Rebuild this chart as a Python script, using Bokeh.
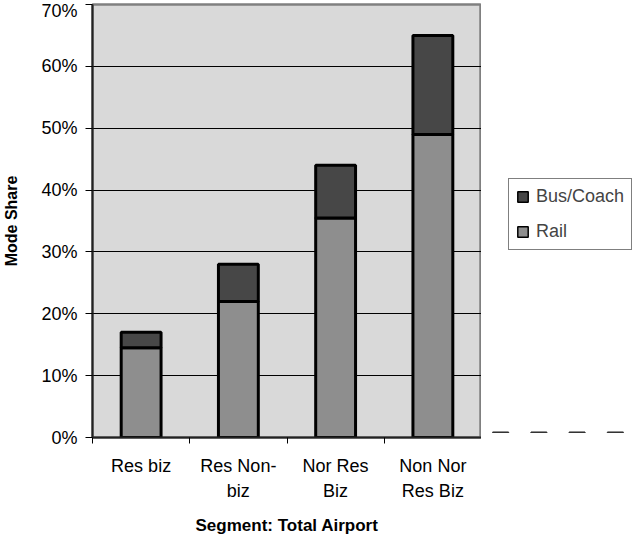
import numpy as np
from bokeh.plotting import figure
from bokeh.layouts import row
from bokeh.models import (Range1d, FixedTicker, NumeralTickFormatter, Legend, LegendItem,
                          ColumnDataSource)
from bokeh.embed import file_html
from bokeh.resources import INLINE

categories = ["Res biz", "Res Non-biz", "Nor Res Biz", "Non Nor Res Biz"]
tick_labels = ["Res biz", "Res Non-\nbiz", "Nor Res\nBiz", "Non Nor\nRes Biz"]
rail = [0.145, 0.22, 0.355, 0.49]
bus_coach = [0.025, 0.06, 0.085, 0.16]
series = ["rail", "bus_coach"]
series_labels = ["Rail", "Bus/Coach"]
colors = ["#8E8E8E", "#474747"]
y_ticks = [0.0, 0.1, 0.2, 0.3, 0.4, 0.5, 0.6, 0.7]
y_max = 0.7

n = len(categories)
centers = (np.arange(n) + 0.5).tolist()
bounds = np.arange(n + 1).tolist()

src = ColumnDataSource(dict(x=centers, rail=rail, bus_coach=bus_coach, cat=categories))

FONT = "Liberation Sans"
FIG_H = 533

p = figure(output_backend="svg", toolbar_location=None,
           frame_width=389, frame_height=433,
           min_border_left=84, min_border_right=0, min_border_top=4, min_border_bottom=FIG_H - 437,
           x_range=Range1d(0, n), y_range=Range1d(0, y_max),
           border_fill_color="white")
p.background_fill_color = "#D9D9D9"
p.outline_line_color = "#808080"
p.outline_line_width = 2.5

rs = p.vbar_stack(series, x="x", width=0.41, source=src, color=colors,
                  line_color="black", line_width=3)

p.xgrid.visible = False
p.ygrid.ticker = FixedTicker(ticks=y_ticks)
p.ygrid.grid_line_color = "black"
p.ygrid.grid_line_width = 1

# y axis
ya = p.yaxis[0]
ya.ticker = FixedTicker(ticks=y_ticks)
ya.formatter = NumeralTickFormatter(format="0%")
ya.major_label_text_font = FONT
ya.major_label_text_font_size = "18px"
ya.major_label_text_color = "black"
ya.major_tick_out = 7
ya.major_tick_in = 0
ya.minor_tick_line_color = None
ya.major_tick_line_color = "black"
ya.axis_line_color = "#222222"
ya.axis_line_width = 2
ya.major_label_standoff = 8
ya.axis_label = "Mode Share"
ya.axis_label_text_font = FONT
ya.axis_label_text_font_style = "bold"
ya.axis_label_text_font_size = "16px"
ya.axis_label_text_color = "black"
ya.axis_label_standoff = 18

# x axis
xa = p.xaxis[0]
xa.ticker = FixedTicker(ticks=centers, minor_ticks=bounds)
xa.major_label_overrides = {c: l for c, l in zip(centers, tick_labels)}
xa.major_tick_line_color = None
xa.major_tick_out = 0
xa.major_tick_in = 0
xa.minor_tick_line_color = "black"
xa.minor_tick_out = 6
xa.minor_tick_in = 0
xa.axis_line_color = "#222222"
xa.axis_line_width = 2
xa.major_label_text_font = FONT
xa.major_label_text_font_size = "18px"
xa.major_label_text_line_height = 1.28
xa.major_label_text_color = "black"
xa.major_label_standoff = 12
xa.axis_label = "Segment: Total Airport"
xa.axis_label_text_font = FONT
xa.axis_label_text_font_style = "bold"
xa.axis_label_text_font_size = "17px"
xa.axis_label_text_color = "black"
xa.axis_label_standoff = 12

# legend panel to the right of the plot area; its swatch renderers lie far outside its view
lf = figure(output_backend="svg", toolbar_location=None,
            width=153, height=FIG_H, min_border=0,
            x_range=Range1d(0, n), y_range=Range1d(20, 21),
            x_axis_location=None, y_axis_location=None,
            border_fill_color="white", background_fill_color="white")
lf.outline_line_color = None
lf.grid.visible = False
swatches = [lf.vbar(x="x", top=s, width=0.41, source=src, fill_color=c,
                    line_color="black", line_width=1.5)
            for s, c in zip(series, colors)]

# legend frame is aligned with the plot frame: box 27px right of it, 182px above its bottom
items = [LegendItem(label=series_labels[1], renderers=[swatches[1]]),
         LegendItem(label=series_labels[0], renderers=[swatches[0]])]
legend = Legend(items=items, location=(27, 182), margin=0,
                border_line_color="black", border_line_width=1,
                background_fill_color="white", background_fill_alpha=1,
                label_text_font=FONT, label_text_font_size="18px",
                glyph_width=13, glyph_height=13, label_height=20,
                label_standoff=7, spacing=14, padding=7)
lf.add_layout(legend, "center")

layout = row(p, lf)
open("out.html", "w").write(file_html(layout, INLINE))
